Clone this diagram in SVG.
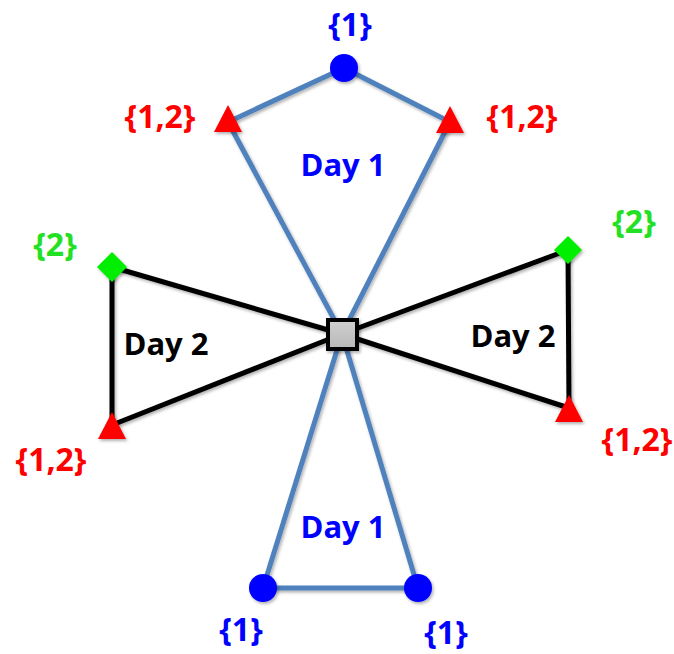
<svg xmlns="http://www.w3.org/2000/svg" width="674" height="654" viewBox="0 0 674 654">
<defs>
<style>
.t{font-family:"Open Sans","Liberation Sans",sans-serif;font-weight:bold;font-size:32px;text-anchor:middle}
.d{font-size:31px}
.b{fill:#0000ff}.r{fill:#ff0000}.g{fill:#22e022}.k{fill:#000}
.bl{stroke:#4f81bd;stroke-width:5;fill:none}
.kl{stroke:#000;stroke-width:5;fill:none}
</style>
<filter id="sh" x="-30%" y="-30%" width="160%" height="160%"><feDropShadow dx="1.5" dy="2" stdDeviation="1.5" flood-color="#000" flood-opacity="0.3"/></filter>
<linearGradient id="sq" x1="0" y1="0" x2="0" y2="1"><stop offset="0" stop-color="#d0d0d0"/><stop offset="1" stop-color="#b8b8b8"/></linearGradient>
</defs>
<g id="connectors" filter="url(#sh)">
<line class="bl" x1="228" y1="122" x2="344" y2="68"/>
<line class="bl" x1="450" y1="122" x2="344" y2="68"/>
<line class="bl" x1="228" y1="122" x2="342" y2="334"/>
<line class="bl" x1="450" y1="122" x2="342" y2="334"/>
<line class="bl" x1="263" y1="588" x2="342" y2="334"/>
<line class="bl" x1="418" y1="588" x2="342" y2="334"/>
<line class="bl" x1="263" y1="588" x2="418" y2="588"/>
<line class="kl" x1="112" y1="267" x2="342" y2="334"/>
<line class="kl" x1="112" y1="425" x2="342" y2="334"/>
<line class="kl" x1="112" y1="267" x2="112" y2="425"/>
<line class="kl" x1="568" y1="250" x2="342" y2="334"/>
<line class="kl" x1="569" y1="408" x2="342" y2="334"/>
<line class="kl" x1="568" y1="250" x2="569" y2="408"/>
</g>
<g id="center" filter="url(#sh)"><rect x="328" y="320" width="29" height="29" fill="url(#sq)" stroke="#000" stroke-width="4"/></g>
<g id="top"><circle cx="344" cy="68" r="14" fill="#0000ff" filter="url(#sh)"/><text class="t b" x="350" y="36">{1}</text></g>
<g id="topLeft"><polygon points="228,105 242,132 214,132" fill="#ff0000" filter="url(#sh)"/><text class="t r" x="160" y="128">{1,2}</text></g>
<g id="topRight"><polygon points="450,106 464,133 436,133" fill="#ff0000" filter="url(#sh)"/><text class="t r" x="522" y="128">{1,2}</text></g>
<g id="leftDiamond"><polygon points="112,252 127,267 112,282 97,267" fill="#00ee00" filter="url(#sh)"/><text class="t g" x="55" y="256">{2}</text></g>
<g id="leftTri"><polygon points="112,412 126,439 98,439" fill="#ff0000" filter="url(#sh)"/><text class="t r" x="51" y="471">{1,2}</text></g>
<g id="rightDiamond"><polygon points="568,236 582,250 568,264 554,250" fill="#00ee00" filter="url(#sh)"/><text class="t g" x="634" y="233">{2}</text></g>
<g id="rightTri"><polygon points="569,395 583,422 555,422" fill="#ff0000" filter="url(#sh)"/><text class="t r" x="637" y="451">{1,2}</text></g>
<g id="bottomLeft"><circle cx="263" cy="588" r="14" fill="#0000ff" filter="url(#sh)"/><text class="t b" x="241" y="641">{1}</text></g>
<g id="bottomRight"><circle cx="418" cy="588" r="14" fill="#0000ff" filter="url(#sh)"/><text class="t b" x="446" y="644">{1}</text></g>
<g id="labels">
<text class="t d b" x="343" y="176">Day 1</text>
<text class="t d b" x="343" y="538">Day 1</text>
<text class="t d k" x="166" y="355">Day 2</text>
<text class="t d k" x="513" y="347">Day 2</text>
</g>
</svg>
